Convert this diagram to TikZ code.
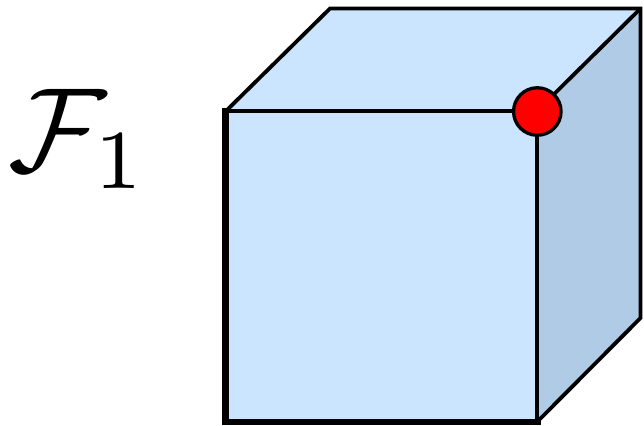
\documentclass[tikz,border=0pt]{standalone}
\usetikzlibrary{calc}
\definecolor{frontblue}{HTML}{CBE4FF}
\definecolor{sideblue}{HTML}{B0CBE5}
\tikzset{
  edge/.style={draw=black,line width=3.8pt,line join=miter},
  heavy/.style={draw=black,line width=7pt,line cap=butt},
  heavylow/.style={draw=black,line width=6pt,line cap=butt},
  corner/.style={circle,draw=black,fill=red,line width=3.3pt,minimum size=47.5pt,inner sep=0pt},
  label/.style={scale=12,inner sep=0pt,anchor=center}
}
\begin{document}
\begin{tikzpicture}[x=1pt,y=-1pt]
\useasboundingbox (0,0) rectangle (644,425);
\coordinate (ftl) at (226,111);
\coordinate (ftr) at (537,111);
\coordinate (fbr) at (537,422);
\coordinate (fbl) at (225.5,422);
\coordinate (btl) at (330,8.5);
\coordinate (btr) at (640.5,8.5);
\coordinate (bbr) at (640.5,318);
\fill[frontblue] (ftl) -- (btl) -- (btr) -- (ftr) -- cycle;
\fill[sideblue] (ftr) -- (btr) -- (bbr) -- (fbr) -- cycle;
\fill[frontblue] (ftl) rectangle (fbr);
\draw[edge] (ftl) -- (btl) -- (btr) -- (bbr) -- (fbr);
\draw[edge] (btr) -- (ftr);
\draw[edge] (ftl) -- (ftr) -- (fbr);
\draw[heavy] (225.5,108) -- (fbl);
\draw[heavylow] (222,422.3) -- (540.5,422.3);
\node[corner] (dot) at (537.3,111.5) {};
\node[label] (title) at (78.5,139) {$\mathcal{F}_1$};
\end{tikzpicture}
\end{document}
